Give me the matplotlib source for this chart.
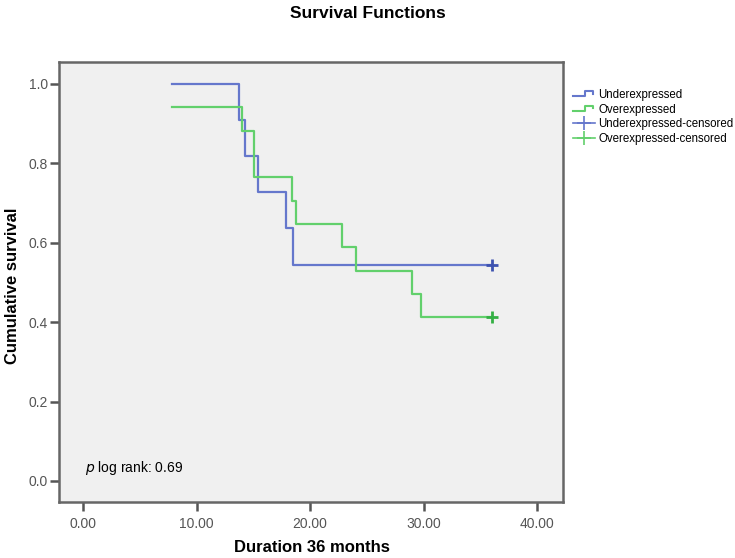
import numpy as np
import matplotlib
matplotlib.use('Agg')
import matplotlib.pyplot as plt
from matplotlib.legend_handler import HandlerBase
from matplotlib.lines import Line2D

plt.rcParams['font.family'] = ['Liberation Sans', 'DejaVu Sans']

# Kaplan-Meier step data
under_t = [7.85, 13.73, 14.29, 15.43, 17.85, 18.49, 36.0]
under_s = [1.0, 0.909, 0.818, 0.727, 0.636, 0.545, 0.545]
over_t = [7.85, 14.02, 15.05, 18.43, 18.76, 22.84, 24.02, 28.96, 29.75, 36.0]
over_s = [0.941, 0.882, 0.765, 0.706, 0.647, 0.588, 0.529, 0.471, 0.412, 0.412]
under_cens = [36.0]
over_cens = [36.0]

xticks = [0, 10, 20, 30, 40]
yticks = [0.0, 0.2, 0.4, 0.6, 0.8, 1.0]

blue = '#6577cc'
green = '#62d06c'
blue_dark = '#3d52b0'
green_dark = '#34b044'


# draws the little step icon used by SPSS in the legend
class StepHandler(HandlerBase):
    def create_artists(self, legend, orig, xd, yd, w, h, fontsize, trans):
        xs = [xd, xd + w * 0.55, xd + w * 0.55, xd + w * 0.9, xd + w * 0.9]
        ys = [yd + h * 0.2, yd + h * 0.2, yd + h * 0.85, yd + h * 0.85, yd + h * 0.55]
        ln = Line2D(xs, ys, color=orig.get_color(), lw=1.5, transform=trans)
        return [ln]


fig = plt.figure(figsize=(7.35, 5.58), dpi=100)
ax = fig.add_axes([0.0803, 0.1004, 0.6857, 0.7885])
ax.set_facecolor('#f0f0f0')

l1, = ax.step(under_t, under_s, where='post', color=blue, lw=1.6)
l2, = ax.step(over_t, over_s, where='post', color=green, lw=1.6)
c1, = ax.plot(under_cens, [under_s[-1]], '+', color=blue_dark, ms=9, mew=2)
c2, = ax.plot(over_cens, [over_s[-1]], '+', color=green_dark, ms=9, mew=2)

ax.set_xlim(-2.14, 42.3)
ax.set_ylim(-0.053, 1.055)
ax.set_xticks(xticks)
ax.set_xticklabels(['%.2f' % v for v in xticks])
ax.set_yticks(yticks)
ax.set_yticklabels(['%.1f' % v for v in yticks])
ax.tick_params(direction='out', length=6.5, width=1.8, color='#555555',
               labelsize=10, labelcolor='#555555')
ax.tick_params(axis='y', pad=1.5)
ax.tick_params(axis='x', pad=4)
for side in ['top', 'right', 'bottom', 'left']:
    ax.spines[side].set_color('#666666')
    ax.spines[side].set_linewidth(1.8)

fig.text(0.5, 1 - 13 / 558, 'Survival Functions', fontsize=12.5,
         fontweight='bold', ha='center', va='center')
fig.text(312 / 735, 1 - 548 / 558, 'Duration 36 months', fontsize=12,
         fontweight='bold', ha='center', va='center')
fig.text(13 / 735, 1 - 286 / 558, 'Cumulative survival', fontsize=12,
         fontweight='bold', ha='center', va='center', rotation=90)

ax.text(0.052, 0.0765, r'$\it{p}$ log rank: 0.69', transform=ax.transAxes,
        fontsize=10, va='center', ha='left')

c1_h = Line2D([], [], color=blue, marker='+', ms=10, mew=1.2, lw=1.2)
c2_h = Line2D([], [], color=green, marker='+', ms=10, mew=1.2, lw=1.2)
fig.legend([l1, l2, c1_h, c2_h],
           ['Underexpressed', 'Overexpressed', 'Underexpressed-censored',
            'Overexpressed-censored'],
           handler_map={l1: StepHandler(), l2: StepHandler()},
           loc='upper left', bbox_to_anchor=(0.7796, 0.8405), frameon=False,
           fontsize=8.3, handlelength=1.9, handletextpad=0.3,
           labelspacing=0.22, borderaxespad=0, borderpad=0)

fig.savefig('out.png', dpi=100)
